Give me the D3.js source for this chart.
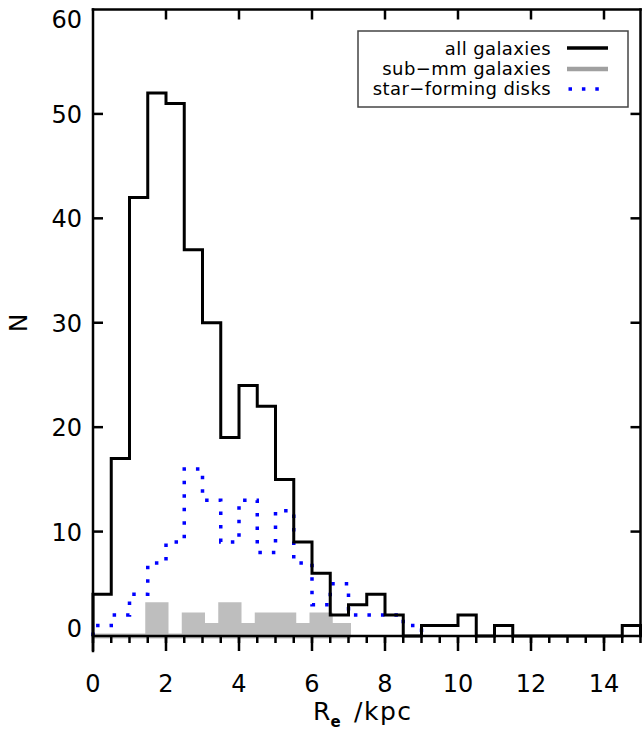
<!DOCTYPE html>
<html>
<head>
<meta charset="utf-8">
<script src="https://cdn.jsdelivr.net/npm/d3@7"></script>
<style>
  body { margin: 0; background: #fff; }
  svg { display: block; font-family: "DejaVu Sans", sans-serif; }
</style>
</head>
<body>
<svg id="viz" width="642" height="733"></svg>
<script>
// histogram counts, bin width 0.5 kpc starting at 0
var binWidth = 0.5
var allGalaxies = [4, 17, 42, 52, 51, 37, 30, 19, 24, 22, 15, 9, 6, 2, 3, 4, 2, 0, 1, 1, 2, 0, 1, 0, 0, 0, 0, 0, 0, 1]
var subMm = [0, 0, 0, 3, 0, 2, 1, 3, 1, 2, 2, 1, 2, 1]
var starDisks = [1, 2, 4, 7, 9, 16, 13, 9, 13, 8, 12, 7, 3, 5, 2, 2, 2, 1]

var xTicks = [0, 2, 4, 6, 8, 10, 12, 14]
var xMinor = d3.range(0, 15.01, 0.5)
var yTicks = [0, 10, 20, 30, 40, 50, 60]

var legendLabels = ['all galaxies', 'sub\u2212mm galaxies', 'star\u2212forming disks']

// note: can't call these top/left at global scope (window.top)
var pLeft = 93, pRight = 640.5, pTop = 9.5, pBottom = 636

var x = d3.scaleLinear().domain([0, 15]).range([pLeft, pRight])
var y = d3.scaleLinear().domain([0, 60]).range([pBottom, pTop])

var blueDash = '3.5,10'

// turn counts into step outline points: start at (0,0), end back at 0
function stepPoints(counts) {
  var pts = [[0, 0]]
  counts.forEach(function (c, i) {
    pts.push([i * binWidth, c])
    pts.push([(i + 1) * binWidth, c])
  })
  pts.push([counts.length * binWidth, 0])
  return pts
}

var svg = d3.select('svg#viz')

var line = d3.line().x(d => x(d[0])).y(d => y(d[1]))
var area = d3.area().x(d => x(d[0])).y0(y(0)).y1(d => y(d[1]))

// sub-mm: filled grey with thick grey outline
svg.append('path')
    .datum(stepPoints(subMm))
    .attr('d', area)
    .attr('fill', '#bebebe')
    .attr('stroke', '#bebebe')
    .attr('stroke-width', 5)
    .attr('stroke-linejoin', 'miter')

// star-forming disks: blue dotted
svg.append('path')
    .datum(stepPoints(starDisks))
    .attr('d', line)
    .attr('fill', 'none')
    .attr('stroke', '#0000ff')
    .attr('stroke-width', 3.5)
    .attr('stroke-dasharray', blueDash)

// all galaxies: black step
svg.append('path')
    .datum(stepPoints(allGalaxies))
    .attr('d', line)
    .attr('fill', 'none')
    .attr('stroke', '#000')
    .attr('stroke-width', 3)
    .attr('stroke-linejoin', 'miter')

// frame
var frame = svg.append('g')
    .attr('stroke', '#000')
    .attr('stroke-width', 2.5)
    .attr('stroke-linecap', 'square')

frame.append('line').attr('x1', pLeft).attr('x2', pLeft).attr('y1', pTop).attr('y2', pBottom + 15)
frame.append('line').attr('x1', pLeft).attr('x2', pRight).attr('y1', pTop).attr('y2', pTop)
frame.append('line').attr('x1', pRight).attr('x2', pRight).attr('y1', pTop).attr('y2', pBottom)
frame.append('line').attr('x1', pLeft).attr('x2', pRight).attr('y1', pBottom).attr('y2', pBottom)

// ticks
var ticks = svg.append('g')
    .attr('stroke', '#000')
    .attr('stroke-width', 2.5)

// bottom: outward, minor + major
ticks.selectAll('line.xminor')
  .data(xMinor)
  .join('line')
    .attr('class', 'xminor')
    .attr('x1', d => x(d)).attr('x2', d => x(d))
    .attr('y1', pBottom).attr('y2', pBottom + 7)

ticks.selectAll('line.xmajor')
  .data(xTicks)
  .join('line')
    .attr('class', 'xmajor')
    .attr('x1', d => x(d)).attr('x2', d => x(d))
    .attr('y1', pBottom).attr('y2', pBottom + 15)

// top: inward, major only
ticks.selectAll('line.xtop')
  .data(xTicks.filter(d => d > 0))
  .join('line')
    .attr('class', 'xtop')
    .attr('x1', d => x(d)).attr('x2', d => x(d))
    .attr('y1', pTop).attr('y2', pTop + 10)

// left and right: inward
ticks.selectAll('line.yleft')
  .data(yTicks.filter(d => d > 0 && d < 60))
  .join('line')
    .attr('class', 'yleft')
    .attr('x1', pLeft).attr('x2', pLeft + 10)
    .attr('y1', d => y(d)).attr('y2', d => y(d))

ticks.selectAll('line.yright')
  .data(yTicks.filter(d => d > 0 && d < 60))
  .join('line')
    .attr('class', 'yright')
    .attr('x1', pRight - 10).attr('x2', pRight)
    .attr('y1', d => y(d)).attr('y2', d => y(d))

// tick labels
svg.append('g')
  .selectAll('text')
  .data(xTicks)
  .join('text')
    .attr('x', d => x(d))
    .attr('y', 692)
    .attr('text-anchor', 'middle')
    .style('font-size', '24px')
    .text(d => d)

svg.append('g')
  .selectAll('text')
  .data(yTicks)
  .join('text')
    .attr('x', 82)
    .attr('y', d => Math.min(637, Math.max(27.5, y(d) + 9)))
    .attr('text-anchor', 'end')
    .style('font-size', '24px')
    .text(d => d)

// axis titles
var xt = svg.append('text')
    .attr('x', 313)
    .attr('y', 720)
    .style('font-size', '25px')
xt.append('tspan').text('R')
xt.append('tspan').attr('dy', 7).style('font-size', '15px').style('font-weight', 'bold').text('e')
xt.append('tspan').attr('x', 354).attr('dy', -7).style('letter-spacing', '1.5px').text('/kpc')

svg.append('text')
    .attr('transform', 'translate(27,323) rotate(-90)')
    .attr('text-anchor', 'middle')
    .style('font-size', '25px')
    .text('N')

// legend
var legend = svg.append('g')

legend.append('rect')
    .attr('x', 358).attr('y', 31)
    .attr('width', 270).attr('height', 76)
    .attr('fill', '#fff')
    .attr('stroke', '#444')
    .attr('stroke-width', 1.5)

legend.selectAll('text')
  .data(legendLabels)
  .join('text')
    .attr('x', 551)
    .attr('y', (d, i) => 55 + i * 20)
    .attr('text-anchor', 'end')
    .style('font-size', '18px')
    .style('letter-spacing', '0.4px')
    .text(d => d)

legend.append('line')
    .attr('x1', 567).attr('x2', 608).attr('y1', 48).attr('y2', 48)
    .attr('stroke', '#000').attr('stroke-width', 3.5)
legend.append('line')
    .attr('x1', 567).attr('x2', 608).attr('y1', 69).attr('y2', 69)
    .attr('stroke', '#a0a0a0').attr('stroke-width', 4.5)
legend.append('line')
    .attr('x1', 568.5).attr('x2', 600).attr('y1', 89).attr('y2', 89)
    .attr('stroke', '#0000ff').attr('stroke-width', 3.5)
    .attr('stroke-dasharray', '3.5,9.9')
</script>
</body>
</html>
